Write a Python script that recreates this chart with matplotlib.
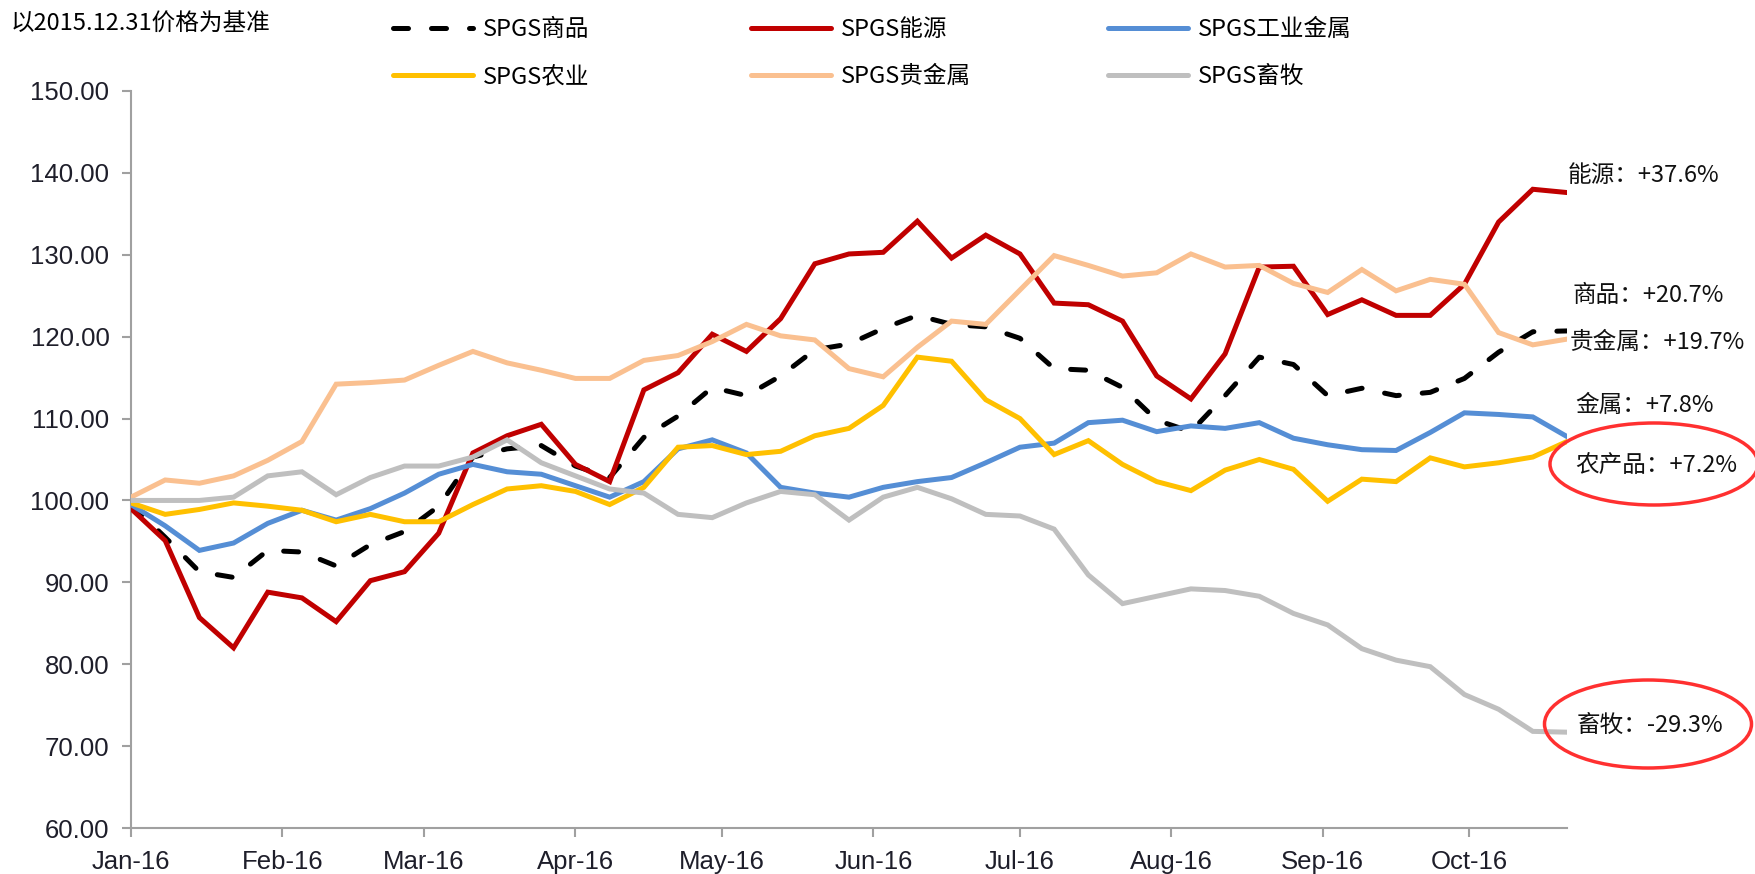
import numpy as np
import pandas as pd
import matplotlib
matplotlib.use('Agg')
import matplotlib.pyplot as plt
import matplotlib.dates as mdates
from matplotlib.ticker import FormatStrFormatter
from matplotlib.patches import Ellipse

# 周度数据, 以2015.12.31价格为基准 (=100)
dates = pd.date_range('2016-01-01', periods=43, freq='7D')

commodity = [99.5, 95.5, 91.3, 90.6, 93.9, 93.7, 92.0, 94.6, 96.2, 99.3,
             105.3, 106.3, 106.7, 104.2, 102.8, 107.7, 110.3, 113.8, 112.8, 115.2,
             118.4, 119.1, 121.0, 122.6, 121.5, 121.2, 119.8, 116.1, 115.9, 113.8,
             109.8, 108.4, 112.8, 117.5, 116.6, 112.8, 113.7, 112.8, 113.2, 114.9,
             118.1, 120.6, 120.7]
energy = [99.0, 95.1, 85.7, 82.0, 88.8, 88.1, 85.2, 90.2, 91.3, 96.0,
          105.8, 107.9, 109.3, 104.4, 102.3, 113.5, 115.6, 120.3, 118.2, 122.2,
          128.9, 130.1, 130.3, 134.1, 129.6, 132.4, 130.1, 124.1, 123.9, 121.9,
          115.2, 112.4, 117.9, 128.5, 128.6, 122.7, 124.5, 122.6, 122.6, 126.4,
          134.0, 138.0, 137.6]
ind_metals = [99.5, 96.9, 93.9, 94.8, 97.2, 98.8, 97.6, 99.0, 100.9, 103.2,
              104.4, 103.5, 103.2, 101.8, 100.4, 102.3, 106.3, 107.4, 105.8, 101.6,
              100.9, 100.4, 101.6, 102.3, 102.8, 104.6, 106.5, 107.0, 109.5, 109.8,
              108.4, 109.1, 108.8, 109.5, 107.6, 106.8, 106.2, 106.1, 108.3, 110.7,
              110.5, 110.2, 107.8]
agri = [99.7, 98.3, 98.9, 99.7, 99.3, 98.8, 97.4, 98.3, 97.4, 97.4,
        99.5, 101.4, 101.8, 101.1, 99.5, 101.6, 106.5, 106.7, 105.6, 106.0,
        107.9, 108.8, 111.6, 117.5, 117.0, 112.3, 110.0, 105.6, 107.3, 104.4,
        102.3, 101.2, 103.7, 105.0, 103.8, 99.9, 102.6, 102.3, 105.2, 104.1,
        104.6, 105.3, 107.2]
precious = [100.4, 102.5, 102.1, 103.0, 104.9, 107.2, 114.2, 114.4, 114.7, 116.5,
            118.2, 116.8, 115.9, 114.9, 114.9, 117.1, 117.7, 119.4, 121.5, 120.1,
            119.6, 116.1, 115.1, 118.7, 121.9, 121.5, 125.7, 129.9, 128.7, 127.4,
            127.8, 130.1, 128.5, 128.7, 126.5, 125.4, 128.2, 125.6, 127.0, 126.4,
            120.5, 119.0, 119.7]
livestock = [100.0, 100.0, 100.0, 100.4, 103.0, 103.5, 100.7, 102.8, 104.2, 104.2,
             105.3, 107.4, 104.6, 103.0, 101.4, 100.9, 98.3, 97.9, 99.7, 101.1,
             100.7, 97.6, 100.4, 101.6, 100.2, 98.3, 98.1, 96.5, 90.9, 87.4,
             88.3, 89.2, 89.0, 88.3, 86.2, 84.8, 81.9, 80.5, 79.7, 76.3,
             74.5, 71.8, 71.7]

names = ['SPGS商品', 'SPGS能源', 'SPGS工业金属', 'SPGS农业', 'SPGS贵金属', 'SPGS畜牧']
end_labels = ['能源：+37.6%', '商品：+20.7%', '贵金属：+19.7%',
              '金属：+7.8%', '农产品：+7.2%', '畜牧：-29.3%']

plt.rcParams['font.family'] = ['Liberation Sans', 'Noto Sans CJK SC', 'DejaVu Sans']
CJK = ['Noto Sans CJK SC', 'DejaVu Sans']

W, H = 1755, 874
fig = plt.figure(figsize=(W / 100, H / 100), dpi=100)
ax = fig.add_axes([131 / W, 1 - 828 / H, (1567 - 131) / W, (828 - 91) / H])

lw = 3.6
series = [commodity, energy, ind_metals, agri, precious, livestock]
colors = ['black', '#C00000', '#558ED5', '#FFC000', '#FAC090', '#BFBFBF']
lines = []
for i, (s, c) in enumerate(zip(series, colors)):
    if i == 0:
        l, = ax.plot(dates, s, color=c, lw=lw, dashes=(3.0, 4.6),
                     dash_capstyle='round', zorder=2)
    else:
        l, = ax.plot(dates, s, color=c, lw=lw, solid_capstyle='round',
                     solid_joinstyle='miter', zorder=2 + i)
    lines.append(l)

ax.set_xlim(dates[0], dates[-1])
ax.set_ylim(60, 150)
ax.set_yticks(np.arange(60, 151, 10))
ax.yaxis.set_major_formatter(FormatStrFormatter('%.2f'))
ax.xaxis.set_major_locator(mdates.MonthLocator())
ax.xaxis.set_major_formatter(mdates.DateFormatter('%b-%y'))

for sp in ['top', 'right']:
    ax.spines[sp].set_visible(False)
for sp in ['left', 'bottom']:
    ax.spines[sp].set_color('#A0A0A0')
    ax.spines[sp].set_linewidth(1.5)
ax.tick_params(axis='both', direction='out', length=6.5, width=1.5,
               color='#A0A0A0', labelsize=18.5, labelcolor='#1E1E2A')
ax.tick_params(axis='y', pad=9)
ax.tick_params(axis='x', pad=9)

# 图例: 三列两行
order = [(0, 3), (1, 4), (2, 5)]
col_x = [393, 751, 1108]
for (a, b), x in zip(order, col_x):
    fig.legend([lines[a], lines[b]], [names[a], names[b]],
               loc='center left', bbox_to_anchor=(x / W, 1 - 53 / H),
               frameon=False, prop={'family': CJK, 'size': 17},
               handlelength=3.4, handletextpad=0.4, labelspacing=1.0,
               borderpad=0, borderaxespad=0)

fig.text(11 / W, 1 - 24 / H, '以2015.12.31价格为基准', family=CJK,
         fontsize=17, va='center', ha='left')

# 右侧涨跌幅标注
label_pos = [(1568, 175), (1572, 295), (1570, 342), (1575, 405), (1575, 465), (1577, 725)]
for txt, (x, y) in zip(end_labels, label_pos):
    fig.text(x / W, 1 - y / H, txt, family=CJK, fontsize=17,
             va='center', ha='left', color='#111111')

for cx, cy, ew, eh in [(1654, 464, 208, 82), (1648, 724, 207, 88)]:
    fig.add_artist(Ellipse((cx / W, 1 - cy / H), ew / W, eh / H,
                           transform=fig.transFigure, fill=False,
                           edgecolor='#FF3030', lw=2.5))

fig.savefig('out.png', dpi=100)
